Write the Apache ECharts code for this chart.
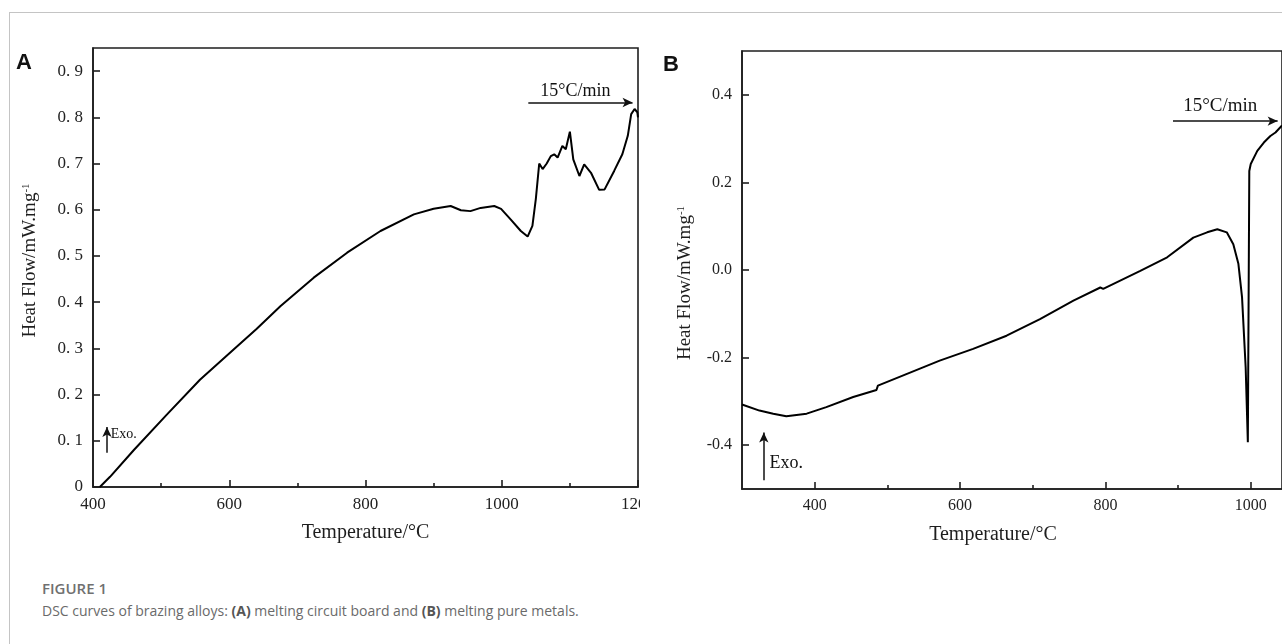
<!DOCTYPE html>
<html lang="en">
<head>
<meta charset="UTF-8">
<title>DSC curves of brazing alloys</title>
<script src="https://cdn.jsdelivr.net/npm/echarts@6/dist/echarts.min.js"></script>
<style>
    html, body { margin: 0; padding: 0; background: #fff; }
    #page { position: relative; width: 1282px; height: 644px; overflow: hidden; }
    #frame { position: absolute; left: 9px; top: 12px; right: -5px; bottom: -5px;
             border-left: 1px solid #c4c4c4; border-top: 1px solid #c4c4c4; }
    #chartA { position: absolute; left: 0; top: 0; width: 640px; height: 570px; }
    #chartB { position: absolute; left: 640px; top: 0; width: 642px; height: 570px; }
    #fig { position: absolute; left: 42px; top: 579px; font-family: "Open Sans", sans-serif;
           font-size: 15px; line-height: 18px; font-weight: 600; color: #707070; }
    #cap { position: absolute; left: 42px; top: 602px; font-family: "Open Sans", sans-serif;
           font-size: 14px; line-height: 18px; color: #6a6a6a; white-space: nowrap; }
    #cap b { font-weight: 700; color: #555; }
</style>
</head>
<body>
<div id="page">
    <div id="frame"></div>
    <div id="chartA"></div>
    <div id="chartB"></div>
    <div id="fig">FIGURE 1</div>
    <div id="cap">DSC curves of brazing alloys: <b>(A)</b> melting circuit board and <b>(B)</b> melting pure metals.</div>
</div>
<script type="text/javascript">
    // panel A : melting circuit board
    var aTemp = [410, 425, 460, 508, 557, 606, 640, 675, 724, 773, 822, 871, 900, 925, 940, 954, 969, 989, 999,
                 1013, 1028, 1038, 1045, 1050, 1055, 1060, 1066, 1072, 1077, 1082, 1089, 1094, 1100, 1105, 1114,
                 1121, 1131, 1143, 1151, 1165, 1177, 1185, 1190, 1195, 1199, 1200];
    var aHeat = [0.000, 0.022, 0.080, 0.156, 0.232, 0.297, 0.342, 0.391, 0.453, 0.507, 0.554, 0.590, 0.602, 0.608,
                 0.599, 0.597, 0.604, 0.608, 0.602, 0.579, 0.554, 0.542, 0.565, 0.623, 0.700, 0.688, 0.700, 0.716,
                 0.720, 0.713, 0.738, 0.731, 0.769, 0.709, 0.673, 0.698, 0.680, 0.643, 0.644, 0.684, 0.720, 0.760,
                 0.807, 0.818, 0.811, 0.800];
    var aXMajor = [400, 600, 800, 1000, 1200];
    var aXLabels = ['400', '600', '800', '1000', '1200'];
    var aXMinor = [500, 700, 900, 1100];
    var aYTicks = [0, 0.1, 0.2, 0.3, 0.4, 0.5, 0.6, 0.7, 0.8, 0.9];
    var aYLabels = ['0', '0. 1', '0. 2', '0. 3', '0. 4', '0. 5', '0. 6', '0. 7', '0. 8', '0. 9'];

    // panel B : melting pure metals
    var bTemp = [300, 324, 343, 361, 389, 416, 453, 485, 487, 527, 572, 618, 664, 710, 756, 793, 797, 848, 885,
                 921, 940, 954, 967, 976, 983, 988, 993, 996, 998, 1000, 1009, 1018, 1027, 1034, 1043];
    var bHeat = [-0.307, -0.321, -0.328, -0.334, -0.328, -0.313, -0.290, -0.274, -0.264, -0.237, -0.207, -0.180,
                 -0.150, -0.112, -0.070, -0.040, -0.043, -0.002, 0.029, 0.074, 0.086, 0.093, 0.086, 0.059, 0.014,
                 -0.062, -0.222, -0.393, 0.226, 0.242, 0.272, 0.291, 0.306, 0.314, 0.330];
    var bXMajor = [400, 600, 800, 1000];
    var bXLabels = ['400', '600', '800', '1000'];
    var bXMinor = [500, 700, 900];
    var bYTicks = [-0.4, -0.2, 0, 0.2, 0.4];
    var bYLabels = ['-0.4', '-0.2', '0.0', '0.2', '0.4'];

    // annotations, in data units: [x1, y1, x2, y2] arrows and [x, y, text, size, align] notes
    var aArrows = [[1039, 0.832, 1192, 0.832], [420.5, 0.074, 420.5, 0.130]];
    var aNotes = [[1108, 0.857, '15°C/min', 18, 'center'], [426, 0.113, 'Exo.', 14, 'left']];
    var bArrows = [[893, 0.340, 1037, 0.340], [330, -0.480, 330, -0.371]];
    var bNotes = [[958, 0.374, '15°C/min', 19, 'center'], [338, -0.442, 'Exo.', 18, 'left']];

    var serif = '"Times New Roman", "Liberation Serif", serif';
    var ink = '#1e1e1e';

    function pairs(xs, ys) {
        var out = [];
        for (var i = 0; i < xs.length; i++) out.push([xs[i], ys[i]]);
        return out;
    }

    function lookup(ticks, labels) {
        return function (v) {
            for (var i = 0; i < ticks.length; i++) {
                if (Math.abs(ticks[i] - v) < 1e-6) return labels[i];
            }
            return '';
        };
    }

    function panelOption(p) {
        var arrowData = p.arrows.map(function (a) {
            return [{coord: [a[0], a[1]], symbol: 'none'}, {coord: [a[2], a[3]], symbol: 'arrow'}];
        });
        return {
            animation: false,
            grid: {left: p.grid[0], top: p.grid[1], width: p.grid[2], height: p.grid[3],
                   containLabel: false, outerBoundsMode: 'none',
                   show: true, borderColor: ink, borderWidth: 1.6},
            xAxis: [{
                type: 'value', min: p.xMin, max: p.xMax, position: 'bottom',
                name: 'Temperature/°C', nameLocation: 'middle', nameGap: 36,
                nameTextStyle: {fontFamily: serif, fontSize: 20, color: ink, padding: p.xNamePad},
                axisLine: {show: true, onZero: false, lineStyle: {color: ink, width: 1.6}},
                axisTick: {show: true, inside: true, length: 7, customValues: p.xMajor,
                           lineStyle: {color: ink, width: 1.6}},
                axisLabel: {customValues: p.xMajor, margin: 9, fontFamily: serif, fontSize: p.tickFont,
                            color: '#222', formatter: lookup(p.xMajor, p.xLabels)},
                splitLine: {show: false}
            }, {
                type: 'value', min: p.xMin, max: p.xMax, position: 'bottom',
                axisLine: {show: false, onZero: false},
                axisTick: {show: true, inside: true, length: 4, customValues: p.xMinor,
                           lineStyle: {color: ink, width: 1.6}},
                axisLabel: {show: false},
                splitLine: {show: false}
            }],
            yAxis: {
                type: 'value', min: p.yMin, max: p.yMax,
                name: 'Heat Flow/mW.mg{sup|-1}', nameLocation: 'middle', nameGap: p.yNameGap,
                nameTextStyle: {fontFamily: serif, fontSize: 19, color: ink, padding: p.yNamePad,
                                rich: {sup: {fontFamily: serif, fontSize: 11, color: ink, verticalAlign: 'top'}}},
                axisLine: {show: true, onZero: false, lineStyle: {color: ink, width: 1.6}},
                axisTick: {show: true, inside: true, length: 7, customValues: p.yTicks,
                           lineStyle: {color: ink, width: 1.6}},
                axisLabel: {customValues: p.yTicks, margin: 10, fontFamily: serif, fontSize: p.tickFont,
                            color: '#222', formatter: lookup(p.yTicks, p.yLabels)},
                splitLine: {show: false}
            },
            series: [{
                type: 'line',
                data: pairs(p.temp, p.heat),
                symbol: 'none',
                lineStyle: {color: '#000', width: 2},
                markLine: {
                    silent: true, animation: false, symbolSize: [7, 10],
                    label: {show: false},
                    lineStyle: {color: '#111', width: 1.5, type: 'solid'},
                    data: arrowData
                }
            }]
        };
    }

    function addTexts(chart, letter, notes) {
        var els = [{
            type: 'text', left: letter[0], top: letter[1],
            style: {text: letter[2], fontFamily: 'Arial, "Liberation Sans", sans-serif',
                    fontWeight: 'bold', fontSize: 22, fill: '#111'}
        }];
        notes.forEach(function (n) {
            var pt = chart.convertToPixel({seriesIndex: 0}, [n[0], n[1]]);
            els.push({
                type: 'text', x: pt[0], y: pt[1],
                style: {text: n[2], fontFamily: serif, fontSize: n[3], fill: '#111',
                        align: n[4], verticalAlign: 'middle'}
            });
        });
        chart.setOption({graphic: els});
    }

    var chartA = echarts.init(document.getElementById('chartA'));
    chartA.setOption(panelOption({
        grid: [93, 48, 545, 439], xMin: 400, xMax: 1200, yMin: 0, yMax: 0.95,
        xMajor: aXMajor, xLabels: aXLabels, xMinor: aXMinor, yTicks: aYTicks, yLabels: aYLabels,
        temp: aTemp, heat: aHeat, arrows: aArrows, tickFont: 17,
        xNamePad: [0, 0, 0, 0], yNameGap: 53, yNamePad: [0, 0, 0, 14]
    }));
    addTexts(chartA, [16, 52, 'A'], aNotes);

    var chartB = echarts.init(document.getElementById('chartB'));
    chartB.setOption(panelOption({
        grid: [102, 51, 540, 438], xMin: 300, xMax: 1043, yMin: -0.5, yMax: 0.5,
        xMajor: bXMajor, xLabels: bXLabels, xMinor: bXMinor, yTicks: bYTicks, yLabels: bYLabels,
        temp: bTemp, heat: bHeat, arrows: bArrows, tickFont: 16,
        xNamePad: [0, 38, 0, 0], yNameGap: 47, yNamePad: [0, 26, 0, 0]
    }));
    addTexts(chartB, [23, 54, 'B'], bNotes);
</script>
</body>
</html>
